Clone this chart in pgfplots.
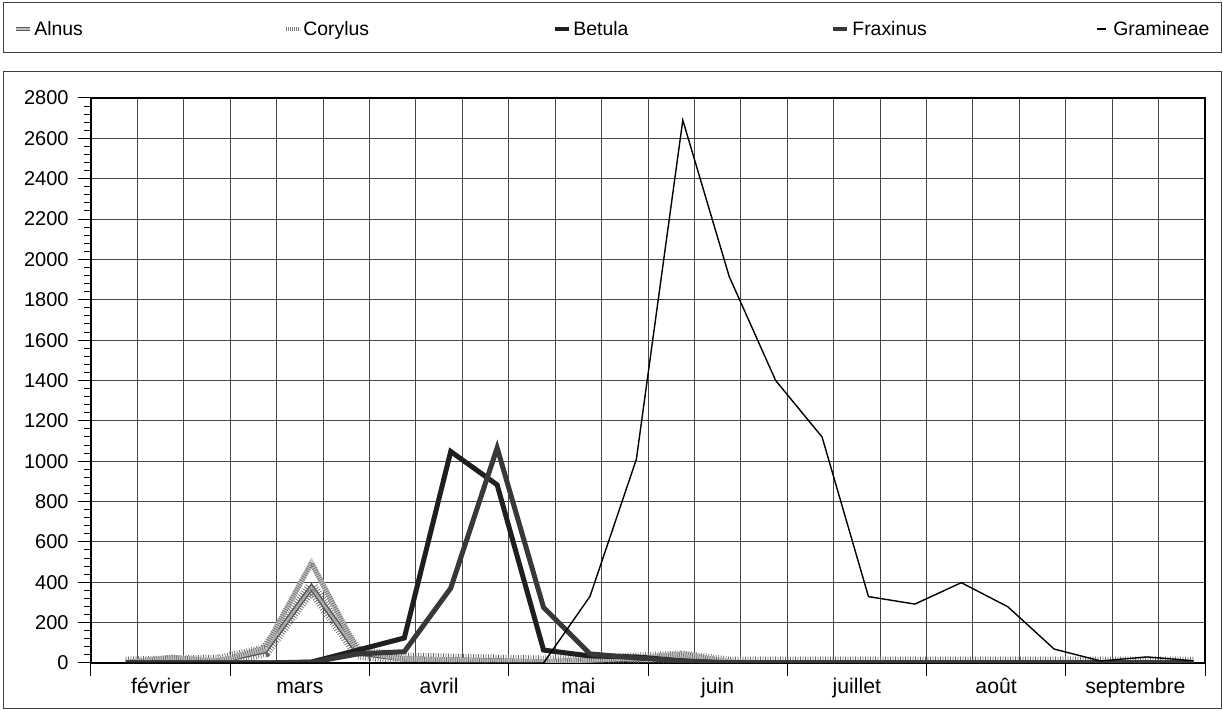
\documentclass[border=0pt]{standalone}
\usepackage{fontspec}
\setmainfont{Liberation Sans}
\usepackage{pgfplots}
\pgfplotsset{compat=1.18}
\usepackage{pgfplotstable}

% pollen counts per decade (x = decade index + 0.75)
\pgfplotstableread{
x     alnus corylus betula fraxinus gramineae
0.75  0     3       0      0        0
1.75  5     28      0      0        0
2.75  10    8       0      0        0
3.75  60    75      0      0        0
4.75  375   496     5      3        0
5.75  50    60      64     45       0
6.75  20    20      124    56       0
7.75  15    15      1048   371      0
8.75  10    8       883    1066     0
9.75  5     5       64     275      0
10.75 15    15      35     45       330
11.75 20    25      30     25       1010
12.75 30    45      10     10       2690
13.75 0     5       0      0        1915
14.75 0     0       0      0        1400
15.75 0     0       0      0        1120
16.75 0     0       0      0        329
17.75 0     0       0      0        292
18.75 0     0       0      0        398
19.75 0     0       0      0        279
20.75 0     0       0      0        69
21.75 0     0       0      0        10
22.75 0     0       0      0        30
23.75 0     0       0      0        11
}\pollen

\tikzset{
  alnus/.style={draw=black!70, line width=0.7pt, double=black!30, double distance=1.2pt,
    postaction={draw=black!60, line width=2.6pt, dash pattern=on 0.35pt off 0.9pt}},
  corylus/.style={draw=black!22, line width=2.6pt,
    postaction={draw=black!55, line width=2.6pt, dash pattern=on 0.4pt off 0.7pt}},
  betula/.style={draw=black!88, line width=2.5pt, line join=miter},
  fraxinus/.style={draw=black!78, line width=2.5pt, line join=miter},
  gramineae/.style={draw=black, line width=0.7pt},
}

\begin{document}
\begin{tikzpicture}[font=\fontsize{9.7}{11}\selectfont]
\path (0,0) rectangle (611.5pt,355.5pt);
\draw[black!75, line width=0.5pt] (1.5pt,329pt) rectangle (610.5pt,354pt);
\draw[black!75, line width=0.5pt] (1.5pt,1pt) rectangle (610.5pt,319.5pt);

% legend
\draw[black!65, line width=0.5pt, double=black!25, double distance=0.9pt] (8pt,341pt) -- (15pt,341pt);
\node[anchor=base west, inner sep=0pt] at (17pt,337.6pt) {Alnus};
\draw[black!50, line width=2pt, dash pattern=on 0.4pt off 0.6pt] (143pt,341pt) -- (150pt,341pt);
\node[anchor=base west, inner sep=0pt] at (151.5pt,337.6pt) {Corylus};
\draw[black!88, line width=2.4pt] (277.5pt,341pt) -- (284.5pt,341pt);
\node[anchor=base west, inner sep=0pt] at (286.5pt,337.6pt) {Betula};
\draw[black!78, line width=2.4pt] (416.5pt,341pt) -- (423.5pt,341pt);
\node[anchor=base west, inner sep=0pt] at (426pt,337.6pt) {Fraxinus};
\draw[black, line width=0.6pt] (548.5pt,341pt) -- (553pt,341pt);
\node[anchor=base west, inner sep=0pt] at (556.5pt,337.6pt) {Gramineae};

\begin{axis}[
    at={(45.5pt,24pt)}, anchor=south west,
    scale only axis, width=557pt, height=282.5pt,
    xmin=0, xmax=24, ymin=0, ymax=2800,
    axis line style={black, line width=0.6pt},
    tick align=outside,
    major tick length=6.5pt, minor tick length=3.5pt,
    ytick={0,200,...,2800},
    minor y tick num=4,
    ytick pos=left, xtick pos=bottom,
    xtick={0,3,...,24}, xticklabels={},
    minor x tick num=2,
    minor x tick style={draw=none},
    extra x ticks={1.5,4.5,...,22.5},
    extra x tick labels={février,mars,avril,mai,juin,juillet,août,septembre},
    extra x tick style={major tick length=0pt, grid=none,
      xticklabel style={font=\fontsize{10.6}{12}\selectfont,
        text height=1.6ex, text depth=0.3ex, yshift=-3.5pt}},
    xmajorgrids, xminorgrids, ymajorgrids,
    grid style={black!72, line width=0.5pt},
    minor grid style={black!72, line width=0.5pt},
    tick style={black, line width=0.5pt},
    tick label style={font=\fontsize{10}{12}\selectfont},
    yticklabel style={xshift=-1.2pt},
    /pgf/number format/1000 sep={},
    /pgf/number format/assume math mode=true,
]
\addplot[alnus] table[x=x, y=alnus] {\pollen};
\addplot[corylus] table[x=x, y=corylus] {\pollen};
\addplot[betula] table[x=x, y=betula] {\pollen};
\addplot[fraxinus] table[x=x, y=fraxinus] {\pollen};
\addplot[gramineae] table[x=x, y=gramineae] {\pollen};
\end{axis}
\end{tikzpicture}
\end{document}
